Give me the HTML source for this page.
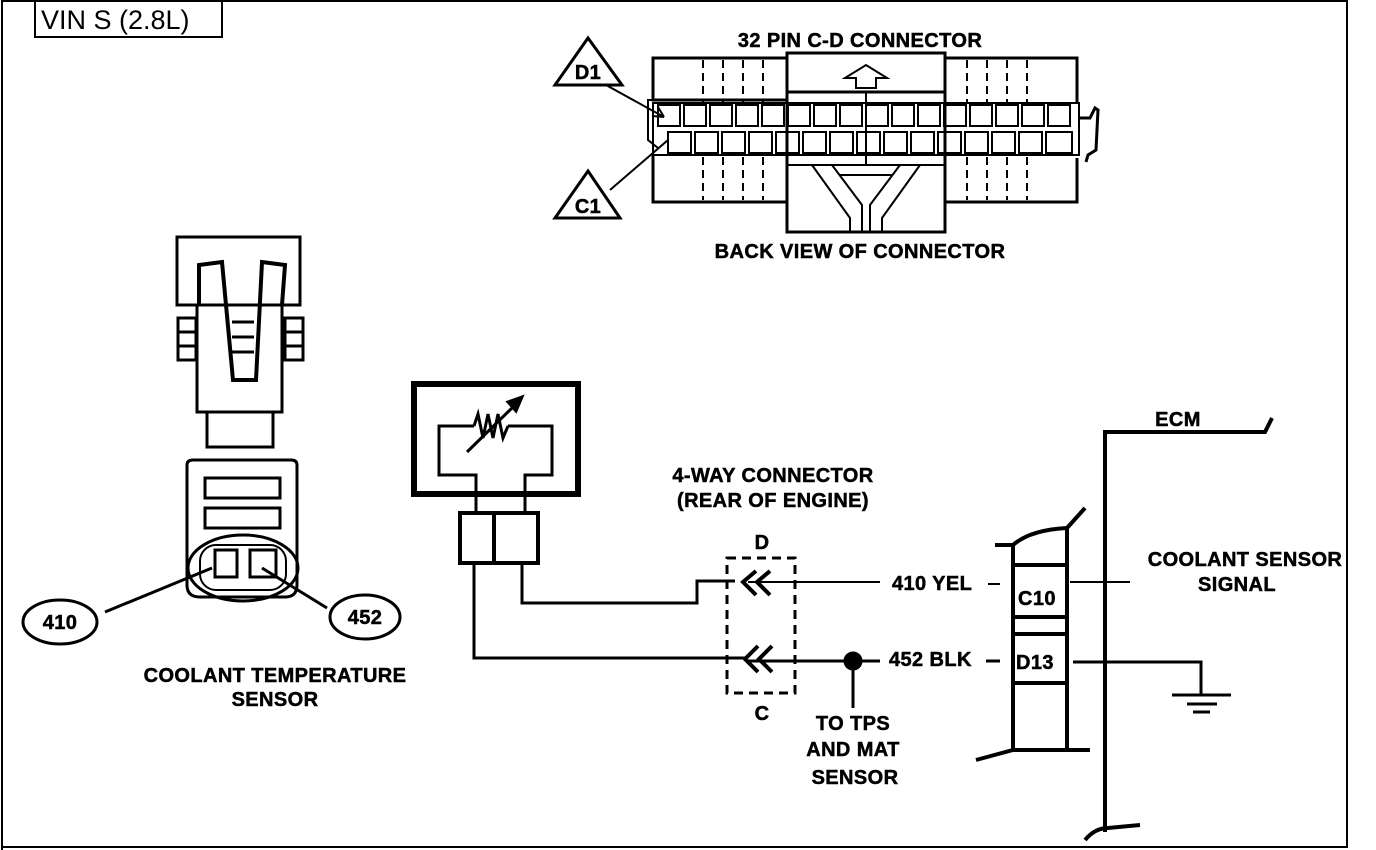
<!DOCTYPE html>
<html><head><meta charset="utf-8"><style>
html,body{margin:0;padding:0;background:#fff;}
svg{display:block;}
.t{font-family:"Liberation Sans",sans-serif;font-weight:bold;font-size:20px;letter-spacing:0.4px;fill:#000;stroke:#000;stroke-width:0.5px;}
</style></head><body>
<svg width="1376" height="850" viewBox="0 0 1376 850" xmlns="http://www.w3.org/2000/svg">
<rect x="0" y="0" width="1376" height="850" fill="#fff"/>
<!-- frame -->
<polyline points="2,850 2,1 1347,1 1347,847 2,847" fill="none" stroke="#000" stroke-width="2"/>
<rect x="35" y="1" width="187" height="36" fill="none" stroke="#000" stroke-width="2"/>
<text x="41" y="29" style="font-family:'Liberation Sans',sans-serif;font-size:27px">VIN S (2.8L)</text>

<!-- 32 pin connector -->
<g stroke="#000" fill="none" stroke-width="3">
<text class="t" x="860" y="47" text-anchor="middle">32 PIN C-D  CONNECTOR</text>
<path d="M787,100 L653,100 L653,58 L787,58"/>
<path d="M945,58 L1077,58 L1077,103"/>
<path d="M653,155 L653,202 L787,202"/>
<path d="M945,202 L1077,202 L1077,158"/>
<rect x="787" y="53" width="158" height="179"/>
<line x1="787" y1="92" x2="945" y2="92"/>
<rect x="787" y="155" width="158" height="10" stroke-width="2"/>
<line x1="866" y1="92" x2="866" y2="165" stroke-width="2"/>
<path d="M845,78 L866,65 L887,78 L876,78 L876,88 L856,88 L856,78 Z" stroke-width="2"/>
<path d="M812,165 L850,218 L850,232 M832,165 L862,205 L862,232 M920,165 L882,218 L882,232 M900,165 L870,205 L870,232 M840,175 L892,175" stroke-width="2"/>
<g stroke-dasharray="8,5" stroke-width="2">
<line x1="703" y1="60" x2="703" y2="102"/><line x1="723" y1="60" x2="723" y2="102"/><line x1="743" y1="60" x2="743" y2="102"/><line x1="763" y1="60" x2="763" y2="102"/>
<line x1="703" y1="157" x2="703" y2="200"/><line x1="723" y1="157" x2="723" y2="200"/><line x1="743" y1="157" x2="743" y2="200"/><line x1="763" y1="157" x2="763" y2="200"/>
<line x1="967" y1="60" x2="967" y2="102"/><line x1="987" y1="60" x2="987" y2="102"/><line x1="1007" y1="60" x2="1007" y2="102"/><line x1="1027" y1="60" x2="1027" y2="102"/>
<line x1="967" y1="157" x2="967" y2="200"/><line x1="987" y1="157" x2="987" y2="200"/><line x1="1007" y1="157" x2="1007" y2="200"/><line x1="1027" y1="157" x2="1027" y2="200"/>
</g>
<rect x="653" y="103" width="426" height="52" stroke-width="2"/>
<g stroke-width="2">
<rect x="658" y="105" width="22" height="21"/><rect x="684" y="105" width="22" height="21"/><rect x="710" y="105" width="22" height="21"/><rect x="736" y="105" width="22" height="21"/><rect x="762" y="105" width="22" height="21"/><rect x="788" y="105" width="22" height="21"/><rect x="814" y="105" width="22" height="21"/><rect x="840" y="105" width="22" height="21"/><rect x="866" y="105" width="22" height="21"/><rect x="892" y="105" width="22" height="21"/><rect x="918" y="105" width="22" height="21"/><rect x="944" y="105" width="22" height="21"/><rect x="970" y="105" width="22" height="21"/><rect x="996" y="105" width="22" height="21"/><rect x="1022" y="105" width="22" height="21"/><rect x="1048" y="105" width="22" height="21"/>
<rect x="668" y="132" width="23" height="21"/><rect x="695" y="132" width="23" height="21"/><rect x="722" y="132" width="23" height="21"/><rect x="749" y="132" width="23" height="21"/><rect x="776" y="132" width="23" height="21"/><rect x="803" y="132" width="23" height="21"/><rect x="830" y="132" width="23" height="21"/><rect x="857" y="132" width="23" height="21"/><rect x="884" y="132" width="23" height="21"/><rect x="911" y="132" width="23" height="21"/><rect x="938" y="132" width="23" height="21"/><rect x="965" y="132" width="23" height="21"/><rect x="992" y="132" width="23" height="21"/><rect x="1019" y="132" width="23" height="21"/><rect x="1046" y="132" width="26" height="21"/>
</g>
<path d="M1079,118 L1090,118 L1095,108 L1098,110 L1096,150 L1088,155 L1086,162" stroke-width="3"/>
<path d="M653,100 L648,100 L648,140 L658,148" stroke-width="2"/>
<path d="M588,38 L622,85 L555,85 Z"/>
<path d="M588,171 L620,218 L555,218 Z"/>
<line x1="606" y1="85" x2="664" y2="117" stroke-width="2"/>
<path d="M664,117 L652,116 M664,117 L658,107" stroke-width="2"/>
<line x1="610" y1="190" x2="668" y2="140" stroke-width="2"/>
<text class="t" x="588" y="79" text-anchor="middle" font-size="17">D1</text>
<text class="t" x="588" y="213" text-anchor="middle" font-size="17">C1</text>
<text class="t" x="860" y="258" text-anchor="middle">BACK VIEW OF CONNECTOR</text>
</g>

<!-- coolant sensor -->
<g stroke="#000" fill="none" stroke-width="3">
<rect x="177" y="237" width="123" height="68"/>
<rect x="197" y="305" width="85" height="107"/>
<path d="M199,305 L199,265 L222,262 L233,380 L256,380 L262,262 L285,265 L282,305" stroke-width="4"/>
<rect x="207" y="412" width="66" height="35"/>
<g stroke-width="3">
<rect x="178" y="318" width="18" height="42"/><rect x="285" y="318" width="18" height="42"/>
<line x1="178" y1="332" x2="196" y2="332"/><line x1="178" y1="346" x2="196" y2="346"/>
<line x1="285" y1="332" x2="303" y2="332"/><line x1="285" y1="346" x2="303" y2="346"/>
<line x1="232" y1="322" x2="254" y2="322"/><line x1="232" y1="337" x2="254" y2="337"/><line x1="232" y1="352" x2="254" y2="352"/>
</g>
<path d="M187,465 Q187,460 193,460 L291,460 Q297,460 297,465 L297,585 Q297,597 285,597 L200,597 Q187,597 187,585 Z"/>
<rect x="205" y="478" width="75" height="20"/>
<rect x="205" y="508" width="75" height="20"/>
<ellipse cx="243" cy="568" rx="55" ry="33"/>
<rect x="200" y="545" width="86" height="45" rx="16" stroke-width="2"/>
<rect x="215" y="550" width="22" height="27"/><rect x="250" y="550" width="26" height="27"/>
<line x1="105" y1="612" x2="212" y2="568"/>
<line x1="327" y1="608" x2="262" y2="568"/>
<ellipse cx="60" cy="622" rx="37" ry="22"/>
<ellipse cx="365" cy="617" rx="35" ry="22"/>
<text class="t" x="60" y="629" text-anchor="middle" font-size="17">410</text>
<text class="t" x="365" y="624" text-anchor="middle" font-size="17">452</text>
<text class="t" x="275" y="682" text-anchor="middle">COOLANT TEMPERATURE</text>
<text class="t" x="275" y="706" text-anchor="middle">SENSOR</text>
</g>

<!-- thermistor -->
<g stroke="#000" fill="none">
<rect x="414" y="384" width="164" height="110" stroke-width="6"/>
<path d="M476,512 L476,475 L439,475 L439,426 L474,426 M508,426 L552,426 L552,475 L525,475 L525,512" stroke-width="3"/>
<path d="M474,426 L478,414 L483,438 L488,414 L493,438 L498,414 L503,438 L508,426" stroke-width="3"/>
<line x1="467" y1="452" x2="515" y2="405" stroke-width="3"/>
<path d="M522,397 L508,402 L516,411 Z" fill="#000" stroke="#000" stroke-width="3"/>
<rect x="460" y="513" width="78" height="50" stroke-width="4"/>
<line x1="494" y1="513" x2="494" y2="563" stroke-width="4"/>
<path d="M522,563 L522,603 L697,603 L697,581 L735,581" stroke-width="3"/>
<path d="M474,563 L474,658 L745,658" stroke-width="3"/>
<text class="t" x="773" y="482" text-anchor="middle">4-WAY CONNECTOR</text>
<text class="t" x="773" y="507" text-anchor="middle">(REAR OF ENGINE)</text>
<rect x="727" y="558" width="68" height="135" stroke-width="3" stroke-dasharray="9,6"/>
<text class="t" x="762" y="549" text-anchor="middle">D</text>
<text class="t" x="762" y="720" text-anchor="middle">C</text>
<path d="M756,571 L743,582 L756,595 M770,571 L757,582 L770,595" stroke-width="4"/>
<path d="M758,646 L745,659 L758,672 M772,646 L759,659 L772,672" stroke-width="4"/>
<line x1="748" y1="582" x2="880" y2="582" stroke-width="2"/>
<line x1="748" y1="661" x2="880" y2="661" stroke-width="3"/>
<circle cx="853" cy="661" r="9" fill="#000"/>
<line x1="853" y1="661" x2="853" y2="708" stroke-width="3"/>
<text class="t" x="892" y="590">410 YEL</text>
<text class="t" x="889" y="666">452 BLK</text>
<line x1="988" y1="584" x2="1000" y2="584" stroke-width="2"/>
<line x1="986" y1="661" x2="1000" y2="661" stroke-width="3"/>
<text class="t" x="853" y="730" text-anchor="middle">TO TPS</text>
<text class="t" x="853" y="756" text-anchor="middle">AND MAT</text>
<text class="t" x="855" y="784" text-anchor="middle">SENSOR</text>
</g>

<!-- ECM -->
<g stroke="#000" fill="none" stroke-width="4">
<path d="M995,545 L1013,545 Q1030,530 1067,528 L1085,508"/>
<line x1="1013" y1="545" x2="1013" y2="750"/>
<line x1="1067" y1="528" x2="1067" y2="750"/>
<line x1="1013" y1="565" x2="1067" y2="565"/>
<line x1="1013" y1="617" x2="1067" y2="617"/>
<line x1="1013" y1="634" x2="1067" y2="634"/>
<line x1="1013" y1="683" x2="1067" y2="683"/>
<path d="M976,760 L1013,750 L1090,750"/>
<path d="M1105,832 L1105,432 L1265,432 L1272,418"/>
<path d="M1085,840 Q1095,828 1108,828 L1140,825"/>
<line x1="1070" y1="582" x2="1130" y2="582" stroke-width="2"/>
<path d="M1073,662 L1201,662 L1201,695" stroke-width="3"/>
<line x1="1172" y1="695" x2="1231" y2="695" stroke-width="3"/>
<line x1="1187" y1="704" x2="1217" y2="704" stroke-width="3"/>
<line x1="1193" y1="712" x2="1210" y2="712" stroke-width="3"/>
<text class="t" x="1018" y="605">C10</text>
<text class="t" x="1016" y="669">D13</text>
<text class="t" x="1178" y="426" text-anchor="middle">ECM</text>
<text class="t" x="1245" y="566" text-anchor="middle">COOLANT SENSOR</text>
<text class="t" x="1237" y="591" text-anchor="middle">SIGNAL</text>
</g>
</svg>
</body></html>
